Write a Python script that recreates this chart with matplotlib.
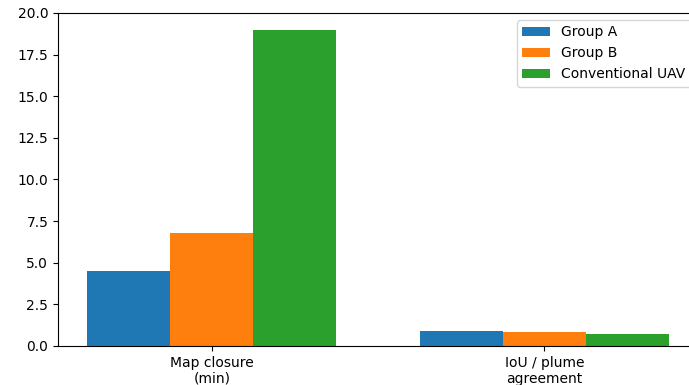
import numpy as np
import matplotlib
matplotlib.use("Agg")
import matplotlib.pyplot as plt

# metric names shown under each group of bars
metrics = ["Map closure\n(min)", "IoU / plume\nagreement"]
group_names = ["Group A", "Group B", "Conventional UAV"]

group_a = [4.5, 0.90]
group_b = [6.8, 0.84]
conventional = [19.0, 0.72]

fig = plt.figure(figsize=(6.89, 3.85), dpi=100)
# axes run a little past the right edge of the canvas
ax = fig.add_axes([0.0842, 0.1013, 0.929, 0.865])

x = np.arange(len(metrics))
width = 0.25
for i, (name, vals) in enumerate(zip(group_names, [group_a, group_b, conventional])):
    ax.bar(x + (i - 1) * width, vals, width, label=name)

ax.set_xticks(x)
ax.set_xticklabels(metrics)
ax.set_yticks(np.arange(0, 20.1, 2.5))
ax.set_ylim(0, 20)
ax.spines["right"].set_visible(False)

ax.legend(loc="upper right")

fig.savefig("out.png", dpi=100)
